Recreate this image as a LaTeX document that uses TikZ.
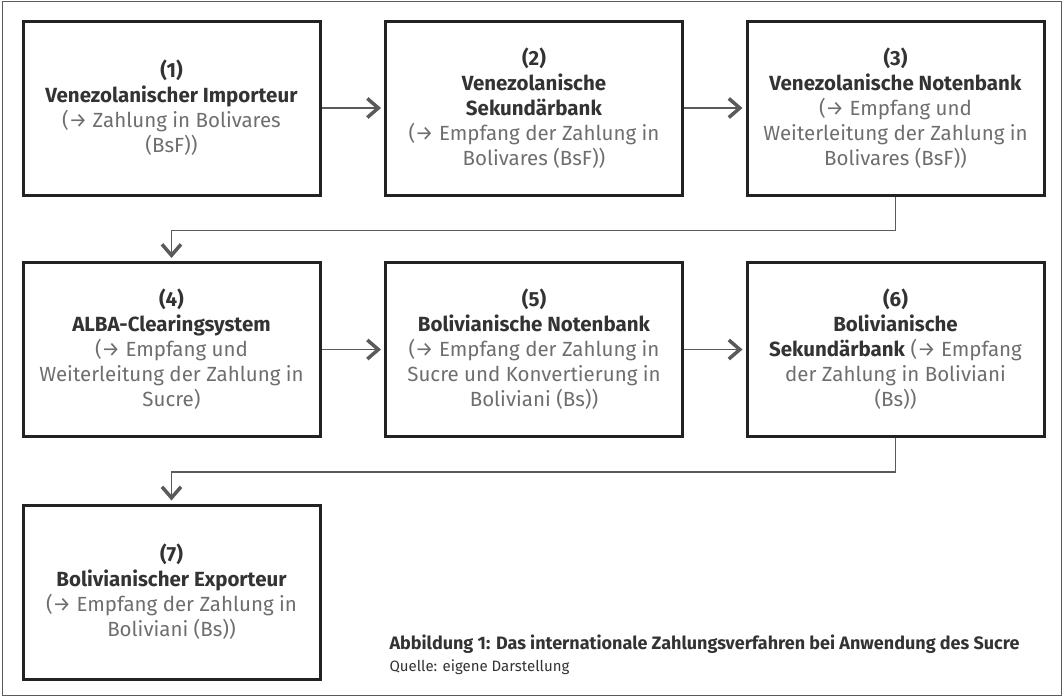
\documentclass[tikz,border=0pt]{standalone}
\usepackage{fontspec}
\setmainfont{Fira Sans}
\usetikzlibrary{arrows.meta,calc}

\definecolor{boxline}{HTML}{222222}
\definecolor{titlegray}{HTML}{333333}
\definecolor{descgray}{HTML}{6E6E6E}
\definecolor{flowgray}{HTML}{5A5A5A}

\newcommand{\sdesc}[1]{{\color{descgray}#1}}

\begin{document}
\begin{tikzpicture}[
  x=1pt, y=-1pt,
  stage/.style={draw=boxline, line width=3pt, minimum width=297pt, minimum height=174pt,
    inner sep=0pt, align=center, text=titlegray, font=\fontsize{20.5}{25}\selectfont},
  flow/.style={draw=flowgray, line width=1.3pt, shorten >=3pt,
    -{Straight Barb[length=11pt, width=19pt, line width=3.5pt]}},
  frame/.style={draw=flowgray, line width=1pt},
  caption/.style={font=\fontsize{18}{22}\selectfont\bfseries, anchor=base west, text=titlegray},
  source/.style={font=\fontsize{15}{18}\selectfont, anchor=base west, text=titlegray}
]

\useasboundingbox (0,0) rectangle (1064,696);
\draw[frame] (2,1) rectangle (1061,695);

% Grid of the three columns and three rows (box centres).
\def\colA{171.5}
\def\colB{534}
\def\colC{895.5}
\def\rowA{108}
\def\rowB{349.5}
\def\rowC{592}

% -----------------------------------------------------------------------------
% Row 1: Venezuelan side.
% -----------------------------------------------------------------------------
\node[stage] (impVE) at (\colA,\rowA) {\textbf{(1)}\\ \textbf{Venezolanischer Importeur}\\
  \sdesc{(→ Zahlung in Bolivares}\\ \sdesc{(BsF))}};
\node[stage] (sekVE) at (\colB,\rowA) {\textbf{(2)}\\ \textbf{Venezolanische}\\ \textbf{Sekundärbank}\\
  \sdesc{(→ Empfang der Zahlung in}\\ \sdesc{Bolivares (BsF))}};
\node[stage] (nbVE) at (\colC,\rowA) {\textbf{(3)}\\ \textbf{Venezolanische Notenbank}\\
  \sdesc{(→ Empfang und}\\ \sdesc{Weiterleitung der Zahlung in}\\ \sdesc{Bolivares (BsF))}};

% -----------------------------------------------------------------------------
% Row 2: clearing and Bolivian banks.
% -----------------------------------------------------------------------------
\node[stage] (clearing) at (\colA,\rowB) {\textbf{(4)}\\ \textbf{ALBA-Clearingsystem}\\
  \sdesc{(→ Empfang und}\\ \sdesc{Weiterleitung der Zahlung in}\\ \sdesc{Sucre)}};
\node[stage] (nbBO) at (\colB,\rowB) {\textbf{(5)}\\ \textbf{Bolivianische Notenbank}\\
  \sdesc{(→ Empfang der Zahlung in}\\ \sdesc{Sucre und Konvertierung in}\\ \sdesc{Boliviani (Bs))}};
\node[stage] (sekBO) at (\colC,\rowB) {\textbf{(6)}\\ \textbf{Bolivianische}\\
  \textbf{Sekundärbank} \sdesc{(→ Empfang}\\ \sdesc{der Zahlung in Boliviani}\\ \sdesc{(Bs))}};

% -----------------------------------------------------------------------------
% Row 3: exporter and caption.
% -----------------------------------------------------------------------------
\node[stage] (expBO) at (\colA,\rowC) {\textbf{(7)}\\ \textbf{Bolivianischer Exporteur}\\
  \sdesc{(→ Empfang der Zahlung in}\\ \sdesc{Boliviani (Bs))}};

\node[caption] (figCaption) at (386,649) {Abbildung 1: Das internationale Zahlungsverfahren bei Anwendung des Sucre};
\node[source] (figSource) at (386,671) {Quelle: eigene Darstellung};

% Payment flow; the row changes leave from the box centre and drop midway.
\draw[flow] (impVE) -- (sekVE);
\draw[flow] (sekVE) -- (nbVE);
\draw[flow] (nbVE.south) -- ++(0,34) -| (clearing.north);
\draw[flow] (clearing) -- (nbBO);
\draw[flow] (nbBO) -- (sekBO);
\draw[flow] (sekBO.south) -- ++(0,34) -| (expBO.north);

\end{tikzpicture}
\end{document}
